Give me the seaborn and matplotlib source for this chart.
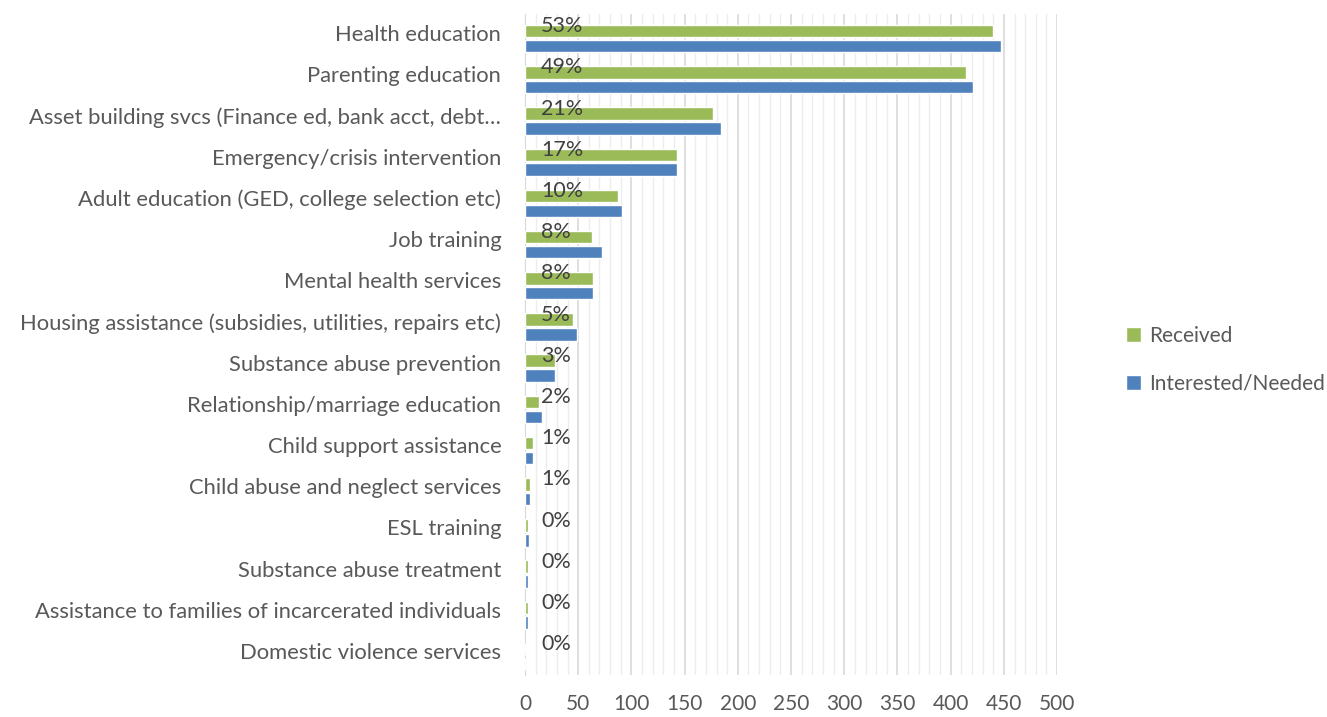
import numpy as np
import pandas as pd
import seaborn as sns
import matplotlib.pyplot as plt
from matplotlib.ticker import MultipleLocator
from matplotlib.transforms import ScaledTranslation

# services, top to bottom
services = [
    'Health education',
    'Parenting education',
    'Asset building svcs (Finance ed, bank acct, debt\u2026',
    'Emergency/crisis intervention',
    'Adult education (GED, college selection etc)',
    'Job training',
    'Mental health services',
    'Housing assistance (subsidies, utilities, repairs etc)',
    'Substance abuse prevention',
    'Relationship/marriage education',
    'Child support assistance',
    'Child abuse and neglect services',
    'ESL training',
    'Substance abuse treatment',
    'Assistance to families of incarcerated individuals',
    'Domestic violence services',
]
received = [440, 414, 177, 143, 87, 63, 64, 45, 28, 13, 8, 5, 3, 3, 2.5, 0.5]
interested = [447, 421, 184, 143, 91, 72, 64, 49, 28, 16, 8, 5, 4, 3, 2.5, 0.5]
pct_labels = ['53%', '49%', '21%', '17%', '10%', '8%', '8%', '5%', '3%', '2%',
              '1%', '1%', '0%', '0%', '0%', '0%']

series = ['Received', 'Interested/Needed']
palette = {'Received': '#9BBB59', 'Interested/Needed': '#4F81BD'}

df = pd.DataFrame({
    'service': services * 2,
    'count': received + interested,
    'series': [series[0]] * len(services) + [series[1]] * len(services),
})

sns.set_style('white')
plt.rcParams['font.family'] = ['Lato', 'DejaVu Sans']
text_color = '#595959'

fig = plt.figure(figsize=(13.27, 7.17), dpi=100)
ax = fig.add_axes([0.3956, 0.0586, 0.401, 0.922])

sns.barplot(data=df, x='count', y='service', hue='series', hue_order=series,
            palette=palette, orient='h', width=0.72, gap=0.16,
            saturation=1, ax=ax, zorder=3)

# percent labels
for i, lab in enumerate(pct_labels):
    ax.text(15, i - 0.3, lab, ha='left', va='center', fontsize=15.5,
            color='#404040', zorder=4)

ax.set_xlim(0, 500)
ax.set_ylim(15.45, -0.6)
ax.xaxis.set_major_locator(MultipleLocator(50))
ax.xaxis.set_minor_locator(MultipleLocator(10))
ax.grid(axis='x', which='major', color='#D9D9D9', linewidth=1.2, zorder=0)
ax.grid(axis='x', which='minor', color='#EDEDED', linewidth=1.0, zorder=0)
ax.set_axisbelow(True)

for s in ['top', 'right', 'bottom']:
    ax.spines[s].set_visible(False)
ax.spines['left'].set_color('#D9D9D9')

ax.set_xlabel('')
ax.set_ylabel('')
ax.tick_params(axis='both', which='both', length=0, labelcolor=text_color)
ax.tick_params(axis='y', pad=17, labelsize=15.8)
ax.tick_params(axis='x', pad=14, labelsize=15)

# nudge the category names up a little, like the original
shift = ScaledTranslation(0, 4 / 72, fig.dpi_scale_trans)
for lbl in ax.get_yticklabels():
    lbl.set_transform(lbl.get_transform() + shift)

handles, labels = ax.get_legend_handles_labels()
ax.legend(handles, labels, loc='center left', bbox_to_anchor=(1.11, 0.477),
          frameon=False, fontsize=15, labelcolor=text_color, borderpad=0,
          handlelength=0.7, handleheight=0.7, handletextpad=0.4,
          labelspacing=1.35)

fig.savefig('out.png', dpi=100)
